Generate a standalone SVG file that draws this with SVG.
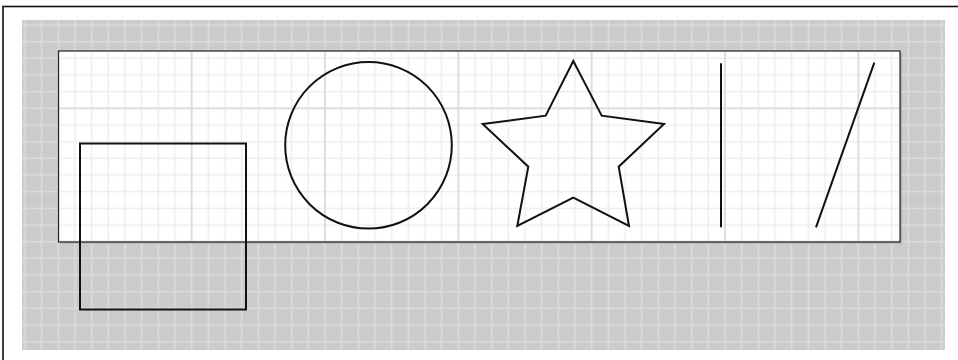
<svg xmlns="http://www.w3.org/2000/svg" width="958" height="360" viewBox="0 0 958 360">
  <defs>
    <pattern id="gridGray" patternUnits="userSpaceOnUse" x="0" y="0" width="16.667" height="16.667">
      <path d="M8.333 0 V16.667 M0 8.333 H16.667" fill="none" stroke="#dcdcdc" stroke-width="1.5"/>
    </pattern>
    <pattern id="gridMinor" patternUnits="userSpaceOnUse" x="0" y="0" width="16.667" height="16.667">
      <path d="M8.333 0 V16.667 M0 8.333 H16.667" fill="none" stroke="#ededed" stroke-width="1.5"/>
    </pattern>
    <pattern id="gridMajor" patternUnits="userSpaceOnUse" x="-8.333" y="41.667" width="133.333" height="133.333">
      <path d="M66.667 0 V133.333 M0 66.667 H133.333" fill="none" stroke="#d9d9d9" stroke-width="1.5"/>
    </pattern>
  </defs>
  <style>
    .shape { fill: none; stroke: #111111; stroke-width: 2; stroke-linejoin: miter; }
  </style>
  <rect x="0" y="0" width="958" height="360" fill="#ffffff"/>
  <rect id="frame" x="3" y="6.5" width="1000" height="400" fill="#ffffff" stroke="#111111" stroke-width="1.6"/>
  <g id="canvas">
    <rect x="22" y="20" width="923" height="330" fill="#cbcbcb"/>
    <rect x="22" y="20" width="923" height="330" fill="url(#gridGray)"/>
  </g>
  <g id="page">
    <rect x="60" y="52.5" width="842" height="191" fill="#9a9a9a" opacity="0.6"/>
    <rect x="58.5" y="51" width="841.5" height="191" fill="#ffffff"/>
    <rect x="58.5" y="51" width="841.5" height="191" fill="url(#gridMinor)"/>
    <rect x="58.5" y="51" width="841.5" height="191" fill="url(#gridMajor)"/>
    <rect x="58.5" y="51" width="841.5" height="191" fill="none" stroke="#222222" stroke-width="1.2"/>
  </g>
  <g id="square">
    <rect class="shape" x="80" y="143.5" width="166" height="166"/>
  </g>
  <g id="circle">
    <circle class="shape" cx="368.5" cy="145.3" r="83.3"/>
  </g>
  <g id="star">
    <polygon class="shape" points="573.3,61 601.7,115.7 664,124 618.7,166.7 629,226 573.3,197.7 517.3,226 528.3,166.7 482.7,124 545.7,115.7"/>
  </g>
  <g id="vertical-line">
    <line class="shape" x1="721" y1="63.3" x2="721" y2="227.3"/>
  </g>
  <g id="diagonal-line">
    <line class="shape" x1="874.3" y1="62.7" x2="816" y2="227.3"/>
  </g>
</svg>
